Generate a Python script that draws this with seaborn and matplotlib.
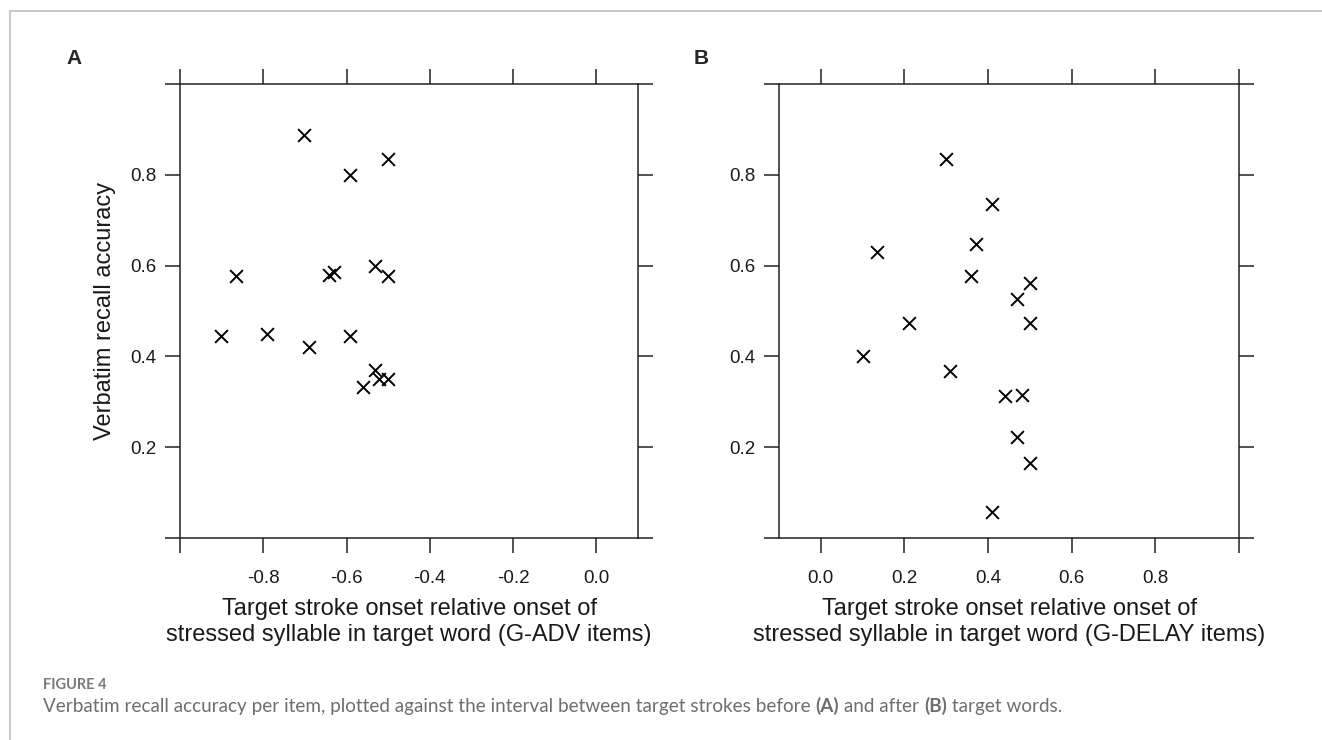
import matplotlib
matplotlib.use("Agg")
import matplotlib.pyplot as plt
import numpy as np
import pandas as pd
import seaborn as sns
from matplotlib.lines import Line2D

# Panel A: G-ADV items (stroke before target word)
adv_onset = [-0.702, -0.50, -0.591, -0.865, -0.641, -0.631, -0.531, -0.50,
             -0.902, -0.792, -0.691, -0.591, -0.531, -0.521, -0.50, -0.561]
adv_recall = [0.888, 0.834, 0.800, 0.578, 0.580, 0.587, 0.600, 0.578,
              0.444, 0.449, 0.421, 0.444, 0.369, 0.350, 0.350, 0.333]

# Panel B: G-DELAY items (stroke after target word)
delay_onset = [0.300, 0.410, 0.135, 0.370, 0.359, 0.500, 0.469, 0.210,
               0.500, 0.100, 0.309, 0.440, 0.480, 0.469, 0.500, 0.410]
delay_recall = [0.834, 0.736, 0.631, 0.647, 0.578, 0.562, 0.526, 0.474,
                0.474, 0.400, 0.368, 0.312, 0.315, 0.222, 0.166, 0.058]

y_ticks = [0.0, 0.2, 0.4, 0.6, 0.8, 1.0]
y_labels = ["", "0.2", "0.4", "0.6", "0.8", ""]
adv_ticks = [-1.0, -0.8, -0.6, -0.4, -0.2, 0.0]
adv_labels = ["", "-0.8", "-0.6", "-0.4", "-0.2", "0.0"]
delay_ticks = [0.0, 0.2, 0.4, 0.6, 0.8, 1.0]
delay_labels = ["0.0", "0.2", "0.4", "0.6", "0.8", ""]

df_adv = pd.DataFrame({"onset": adv_onset, "recall": adv_recall})
df_delay = pd.DataFrame({"onset": delay_onset, "recall": delay_recall})

sns.set_theme(style="white")
plt.rcParams["font.family"] = ["Liberation Sans", "DejaVu Sans"]

fig = plt.figure(figsize=(13.22, 7.4), dpi=100)
W, H = 1322, 740


def px_axes(x0, y0, x1, y1):
    return fig.add_axes([x0 / W, 1 - y1 / H, (x1 - x0) / W, (y1 - y0) / H])


ax1 = px_axes(180, 84, 638, 538)
ax2 = px_axes(779, 84, 1239, 538)

xlabel = "Target stroke onset relative onset of\nstressed syllable in target word ({})"
ink = "#1a1a1a"

for ax, df, xlim, ticks, labels, tag in [
    (ax1, df_adv, (-1.0, 0.1), adv_ticks, adv_labels, "G-ADV items"),
    (ax2, df_delay, (-0.1, 1.0), delay_ticks, delay_labels, "G-DELAY items"),
]:
    sns.scatterplot(data=df, x="onset", y="recall", ax=ax, marker="x",
                    color="black", s=85, linewidth=1.4, zorder=3)
    ax.set_xlim(*xlim)
    ax.set_ylim(0, 1)
    ax.set_xticks(ticks)
    ax.set_xticklabels(labels)
    ax.set_yticks(y_ticks)
    ax.set_yticklabels(y_labels)
    ax.tick_params(axis="both", which="both", direction="out", length=11,
                   width=1.1, color="#222222", labelsize=13.5,
                   bottom=True, top=True, left=True, right=True,
                   labeltop=False, labelright=False, labelcolor=ink)
    ax.tick_params(axis="x", pad=12)
    ax.tick_params(axis="y", pad=6)
    for s in ax.spines.values():
        s.set_color("#222222")
        s.set_linewidth(1.1)
    ax.set_xlabel(xlabel.format(tag), fontsize=17, color=ink, labelpad=8,
                  linespacing=1.25)
    ax.set_ylabel("")

ax1.set_ylabel("Verbatim recall accuracy", fontsize=17, color=ink, labelpad=10)

# panel letters
fig.text(66 / W, 1 - 59 / H, "A", fontsize=15, fontweight="bold", va="center")
fig.text(694 / W, 1 - 59 / H, "B", fontsize=15, fontweight="bold", va="center")

# page frame (top and left edges)
fig.add_artist(Line2D([10 / W, 1.0], [1 - 11 / H, 1 - 11 / H], color="#c0c0c0", lw=1.2))
fig.add_artist(Line2D([10 / W, 10 / W], [1 - 11 / H, 0.0], color="#c0c0c0", lw=1.2))

# caption
cap_family = ["Lato", "DejaVu Sans"]
fig.text(43 / W, 1 - 685 / H, "FIGURE 4", fontsize=10.5, color="#7a7a7a",
         family=cap_family, fontweight="bold", va="center")

parts = [
    ("Verbatim recall accuracy per item, plotted against the interval between target strokes before ", "normal"),
    ("(A)", "bold"),
    (" and after ", "normal"),
    ("(B)", "bold"),
    (" target words.", "normal"),
]
fig.canvas.draw()
renderer = fig.canvas.get_renderer()
x = 43
for txt, wt in parts:
    t = fig.text(x / W, 1 - 712 / H, txt, fontsize=13.6, color="#6e6e6e",
                 family=cap_family, fontweight=wt, va="baseline")
    bb = t.get_window_extent(renderer=renderer)
    x += bb.width

fig.savefig("out.png", dpi=100)
